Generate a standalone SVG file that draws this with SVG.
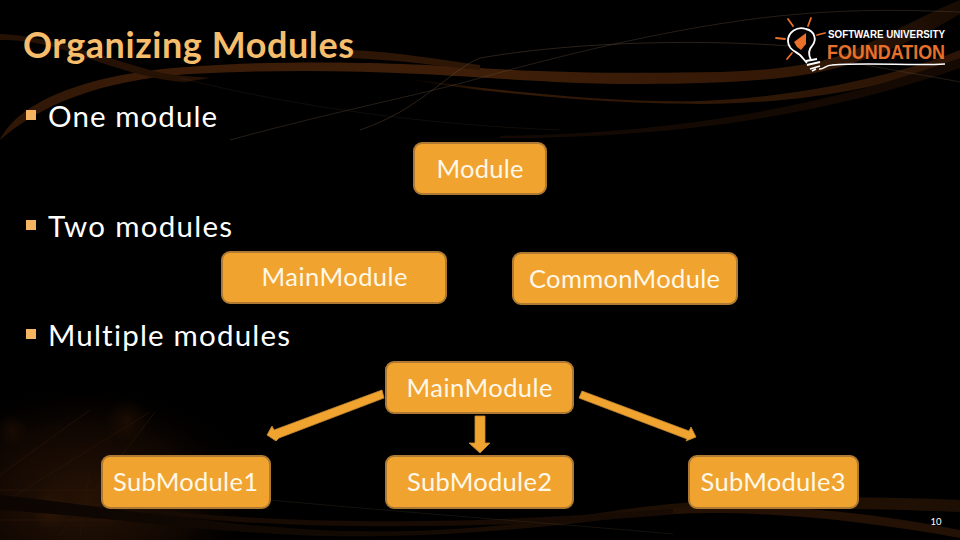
<svg xmlns="http://www.w3.org/2000/svg" width="960" height="540" viewBox="0 0 960 540">
<style>
.box{fill:#f0a32f;stroke:#ae7a33;stroke-width:2}
.bt{font-family:"Lato","Open Sans",sans-serif;font-size:25.5px;fill:#fff8e8;text-anchor:middle;font-variant-ligatures:none}
.body{font-family:"Lato","Open Sans",sans-serif;font-size:29.5px;fill:#fff;font-variant-ligatures:none}
.bul{fill:#f5b560}
.arr{fill:#f0a32f;stroke:#c58a34;stroke-width:.8}
.th{fill:none;stroke:#5f4a38;stroke-width:.9}
.ray{stroke:#e8702a;stroke-width:1.8;stroke-linecap:round}
.tb{fill:none;stroke:#2e1708;stroke-width:.9}
</style>
<defs>
<linearGradient id="band" x1="0" x2="1" y1="0" y2="0">
<stop offset="0" stop-color="#2e1606"/><stop offset=".15" stop-color="#3a1c08"/><stop offset=".5" stop-color="#3e1e08"/><stop offset=".85" stop-color="#331806"/><stop offset="1" stop-color="#170b03"/>
</linearGradient>
<linearGradient id="bandB" x1="0" x2="1" y1="0" y2="0">
<stop offset="0" stop-color="#0c0502"/><stop offset=".4" stop-color="#140a03"/><stop offset=".8" stop-color="#221104"/><stop offset="1" stop-color="#1e0f04"/>
</linearGradient>
<linearGradient id="taper" x1="0" x2="1" y1="0" y2="0">
<stop offset="0" stop-color="#331906" stop-opacity="0"/><stop offset=".15" stop-color="#331906"/><stop offset="1" stop-color="#2c1506"/>
</linearGradient>
<radialGradient id="glow" cx="0.35" cy="0.75" r="0.75">
<stop offset="0" stop-color="#261205"/><stop offset=".6" stop-color="#100702"/><stop offset="1" stop-color="#000" stop-opacity="0"/>
</radialGradient>
<radialGradient id="spot"><stop offset="0" stop-color="#3c1c06"/><stop offset="1" stop-color="#3c1c06" stop-opacity="0"/></radialGradient>
</defs>
<rect id="background" width="960" height="540" fill="#000"/>
<g id="swooshes">
<path d="M0 140C20 100 90 72 200 66C280 60 400 62 480 68C540 72 620 74 720 72C780 70 820 64 850 52C890 34 930 12 960 0L960 14C930 32 890 52 850 64C810 78 740 84 640 84C560 84 500 78 420 74C340 70 270 70 190 74C100 80 40 105 0 140Z" fill="url(#band)"/>
<path d="M0 34C50 36 100 56 150 70C170 76 190 76 210 78L185 82C150 80 110 66 70 52C40 42 20 40 0 40Z" fill="#261205"/>
<path d="M350 50C400 52 440 60 480 65L480 70C440 66 400 60 350 58Z" fill="#2e1606"/>
<path d="M400 78C480 88 600 103 700 101C780 98 880 82 960 50L960 60C880 92 780 104 700 104C620 104 500 96 400 78Z" fill="url(#taper)"/>
<path d="M500 136C640 134 800 116 960 58L960 68C800 124 640 138 500 138Z" fill="#150a03"/>
<path class="th" d="M230 140C340 110 420 95 480 78C580 50 700 22 800 14C860 9 910 10 960 12" opacity=".45"/>
<path class="th" d="M360 130C420 110 450 70 480 58C560 44 680 38 790 46" opacity=".5"/>
<path class="th" d="M180 78C300 108 430 125 560 130" opacity=".2"/>
<path class="th" d="M850 62C890 70 930 76 960 82" opacity=".4"/>
<rect x="0" y="380" width="240" height="160" fill="url(#glow)"/>
<circle cx="127" cy="420" r="22" fill="url(#spot)" opacity=".35"/>
<circle cx="12" cy="430" r="16" fill="url(#spot)" opacity=".3"/>
<circle cx="50" cy="510" r="20" fill="url(#spot)" opacity=".5"/>
<path d="M0 475L90 410M0 505L150 412M60 535L155 412M80 535L90 470M0 490H110M0 505H130M0 520H190" class="tb" opacity=".7"/>
<path d="M0 495C100 505 200 524 320 530C440 536 540 522 620 510C700 498 830 494 960 500L960 512C830 506 700 508 620 518C520 530 430 538 320 536C200 532 100 516 0 510Z" fill="url(#bandB)"/>
<path d="M160 510C260 522 420 524 520 518C620 514 680 508 740 504L740 508C680 514 620 520 520 524C400 528 260 528 160 514Z" fill="#170b03"/>
<path d="M673 514C760 510 860 520 960 538L960 530C860 510 760 502 673 508Z" fill="#221104"/>
<path d="M270 500C400 512 560 524 673 534" class="th" opacity=".25"/>
</g>
<text id="title" x="23" y="58" font-family="Lato,'Open Sans',sans-serif" font-size="36px" font-weight="700" fill="#f5bd6c" textLength="331" lengthAdjust="spacing">Organizing Modules</text>
<g id="logo">
<path class="ray" d="M788 19L793 26M811 18L808 26M817 35L825 33M776 38L785 39M787 59L792 53"/>
<path d="M811 60C808 54 808 50 812 46C817 40 815 31 806 29C797 26 788 32 788 41C788 49 795 51 800 55C803 58 805 61 807 63" fill="none" stroke="#fff" stroke-width="1.8"/>
<path d="M794 42L806 33L806 44L801 50L797 47Z" fill="#e8702a"/>
<path d="M806 61L817 59M807 65L820 62M810 69L820 66M812 71L816 69" stroke="#fff" stroke-width="1.8"/>
<path d="M819 69C824 70 825 65 832 65C870 62 910 66 945 64" stroke="#fff" stroke-width="1.5" fill="none"/>
<text x="828" y="38" font-family="'Liberation Sans',Arial,sans-serif" font-size="10" font-weight="700" fill="#fff" textLength="117" lengthAdjust="spacingAndGlyphs">SOFTWARE UNIVERSITY</text>
<text x="827" y="59" font-family="'Liberation Sans',Arial,sans-serif" font-size="19.500" font-weight="700" fill="#e8702a" textLength="118" lengthAdjust="spacingAndGlyphs">FOUNDATION</text>
</g>
<g id="bullets">
<rect class="bul" x="26" y="110" width="10" height="10"/>
<text class="body" x="48" y="127" textLength="169">One module</text>
<rect class="bul" x="26" y="220" width="10" height="10"/>
<text class="body" x="48" y="236.500" textLength="184">Two modules</text>
<rect class="bul" x="26" y="329" width="10" height="10"/>
<text class="body" x="48" y="346" textLength="242">Multiple modules</text>
</g>
<g id="node-module"><rect class="box" x="414" y="143" width="132" height="51" rx="8"/><text class="bt" x="480" y="178" textLength="87">Module</text></g>
<g id="node-main1"><rect class="box" x="222" y="252" width="224" height="51" rx="8"/><text class="bt" x="334.500" y="286" textLength="146">MainModule</text></g>
<g id="node-common"><rect class="box" x="513" y="253" width="224" height="51" rx="8"/><text class="bt" x="624.500" y="288" textLength="191">CommonModule</text></g>
<g id="node-main2"><rect class="box" x="386" y="362" width="187" height="51" rx="8"/><text class="bt" x="479.500" y="397" textLength="146">MainModule</text></g>
<g id="node-sub1"><rect class="box" x="102" y="456" width="168" height="52" rx="8"/><text class="bt" x="185.500" y="491" textLength="145">SubModule1</text></g>
<g id="node-sub2"><rect class="box" x="386" y="456" width="187" height="52" rx="8"/><text class="bt" x="479.500" y="491" textLength="145">SubModule2</text></g>
<g id="node-sub3"><rect class="box" x="689" y="456" width="169" height="52" rx="8"/><text class="bt" x="773" y="491" textLength="145">SubModule3</text></g>
<g id="connectors">
<path class="arr" d="M382 390L384 398L279 438L276 441L267 435L272 426L274 430Z"/>
<path class="arr" d="M475 416H485V443H490L480 453L469 443H475Z"/>
<path class="arr" d="M582 391L579 398L687 439L686 441L696 437L691 427L689 431Z"/>
</g>
<text id="page" x="936" y="525" font-family="Lato,sans-serif" font-size="9.500" fill="#fff" text-anchor="middle">10</text>
</svg>
